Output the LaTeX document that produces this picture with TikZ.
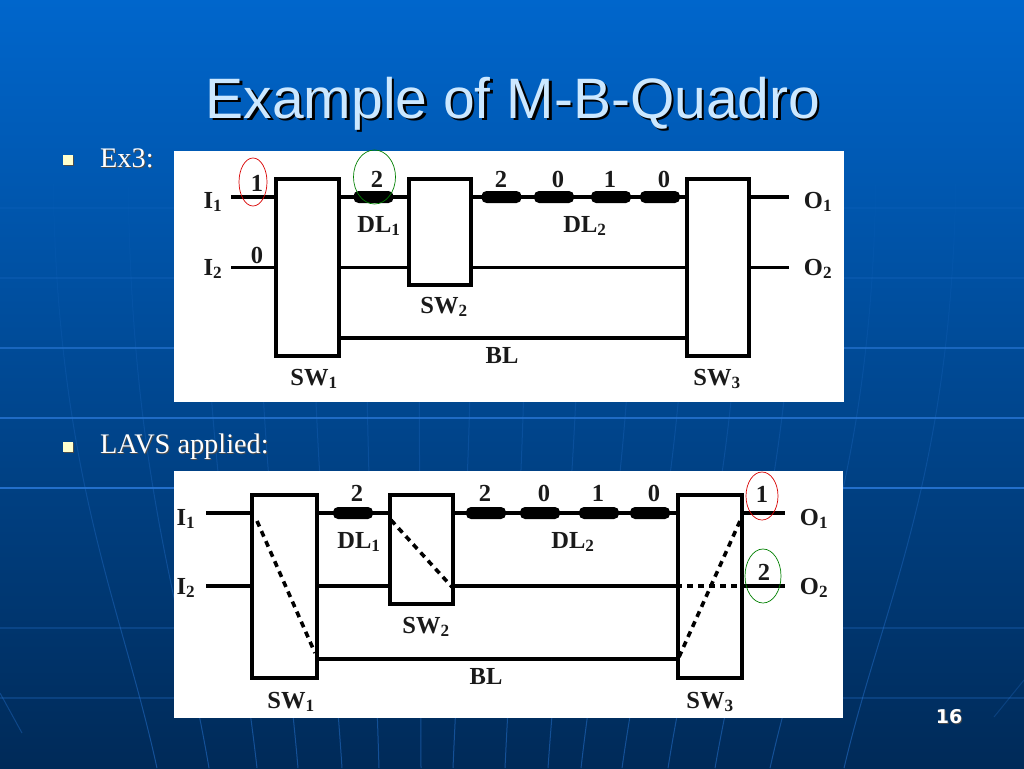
\documentclass[tikz,border=0pt]{standalone}
\usepackage{fontspec}
\setmainfont{Liberation Serif}
\newfontfamily\arialfont{Liberation Sans}
\newfontfamily\numfont{DejaVu Sans}
\usetikzlibrary{shapes.geometric, fadings}
\definecolor{slidetop}{HTML}{0066CC}
\definecolor{slidemid}{HTML}{004C9C}
\definecolor{slidebot}{HTML}{002A58}
\definecolor{gridline}{HTML}{2A78D8}
\definecolor{titleblue}{HTML}{CCE8FF}
\definecolor{bulletcream}{HTML}{FFFFCC}
\definecolor{inkblack}{HTML}{1A1A1A}
\newcommand{\dropshadow}[3]{\makebox[0pt][l]{\hspace{#1}\raisebox{-#1}{\textcolor{black!#2}{#3}}}#3}
\tikzset{
	swbox/.style={draw=black, line width=3.6pt, minimum width=#1, inner sep=0pt},
	wire/.style={line width=3.6pt, draw=black},
	dashwire/.style={line width=3.6pt, draw=black, dash pattern=on 6pt off 5pt},
	delayblob/.style={fill=black, rounded corners=5pt, minimum width=40pt, minimum height=12pt, inner sep=0pt},
	lbl/.style={font=\fontsize{24.5}{24.5}\selectfont\bfseries, text=inkblack, anchor=base, inner sep=0pt},
	loopmark/.style={ellipse, draw=#1, line width=0.7pt, inner sep=0pt},
	bodytext/.style={font=\fontsize{28.3}{28.3}\selectfont, text=white, anchor=base west, inner sep=0pt},
	titletext/.style={font=\arialfont\fontsize{57}{57}\selectfont, text=titleblue, anchor=base, inner sep=0pt},
	numtext/.style={font=\numfont\bfseries\fontsize{19}{19}\selectfont, text=white, inner sep=0pt},
	bulletmark/.style={fill=bulletcream, minimum size=10pt, inner sep=0pt},
	panel/.style={fill=white, draw=none},
}
\begin{document}
\begin{tikzpicture}[x=1pt, y=-1pt]
	\useasboundingbox (0,0) rectangle (1024,768);
	\shade[top color=slidetop, middle color=slidemid, bottom color=slidebot] (0,0) rectangle (1024,768);

	\foreach \ypos/\lop in {208/.1, 278/.18, 348/.6, 418/.75, 488/.85, 628/.25, 698/.25} {
		\draw[gridline, opacity=\lop, line width=1.2pt] (0,\ypos) -- (1024,\ypos);
	}
	\foreach \xtop/\xbot in {53/157, 128/209, 203/257, 257/298, 311/342, 365/379, 419/421, 473/453, 527/505, 581/548, 635/581, 689/622, 743/668, 797/715, 876/770, 956/844} {
		\draw[gridline, opacity=.5, line width=1pt, path fading=north] (\xtop,150) .. controls (\xtop,470) and ({\xbot-(\xbot-\xtop)*.35},600) .. (\xbot,768);
	}
	\draw[gridline, opacity=.35, line width=1pt] (0,693) -- (22,733);
	\draw[gridline, opacity=.25, line width=1pt] (1024,680) -- (994,717);

	\node[titletext] (title) at (513,118) {\dropshadow{2.5pt}{100}{Example of M-B-Quadro}};

	\node[bulletmark, fill=black!70] (bulletas) at (69,161) {};
	\node[bulletmark] (bulleta) at (68,160) {};
	\node[bulletmark, fill=black!70] (bulletbs) at (69,448) {};
	\node[bulletmark] (bulletb) at (68,447) {};
	\node[bodytext] (extext) at (100,167) {\dropshadow{1pt}{70}{Ex3:}};
	\node[bodytext] (lavstext) at (100,453) {\dropshadow{1pt}{70}{LAVS applied:}};
	\node[numtext] (slidenum) at (949,717) {\dropshadow{1pt}{70}{16}};

	\fill[panel] (174,151) rectangle (844,402);
	\fill[panel] (174,471) rectangle (843,718);

	\node[swbox=63pt, minimum height=177pt] (swa) at (307.5,267.5) {};
	\node[swbox=62pt, minimum height=106pt] (swb) at (440,232) {};
	\node[swbox=62pt, minimum height=177pt] (swc) at (718,267.5) {};
	\coordinate (ia) at (231,197);
	\coordinate (ib) at (231,267.5);
	\coordinate (bl) at (339,338);
	\coordinate (oa) at (789,197);
	\coordinate (ob) at (789,267.5);
	\draw[wire] (ia) -- (ia -| swa.west);
	\draw[wire] (ib) -- (ib -| swa.west);
	\draw[wire] (swa.east |- ia) -- (swb.west |- ia);
	\draw[wire] (swa.east |- ib) -- (swb.west |- ib);
	\draw[wire] (swb.east |- ia) -- (swc.west |- ia);
	\draw[wire] (swb.east |- ib) -- (swc.west |- ib);
	\draw[wire] (swa.east |- bl) -- (swc.west |- bl);
	\draw[wire] (swc.east |- ia) -- (oa);
	\draw[wire] (swc.east |- ib) -- (ob);
	\foreach \xpos/\nm in {373.5/a, 501.5/b, 554/c, 611/d, 660/e} {
		\node[delayblob] (blob\nm) at (\xpos,197) {};
	}
	\foreach \xpos/\ypos/\txt/\nm in {213/208/I\textsubscript{1}/a, 213/275/I\textsubscript{2}/b, 257/191/1/c, 257/263/0/d, 377/187/2/e, 379/232/DL\textsubscript{1}/f, 501/187/2/g, 558/187/0/h, 610/187/1/i, 664/187/0/j, 585/232/DL\textsubscript{2}/k, 818/208/O\textsubscript{1}/l, 818/275/O\textsubscript{2}/m, 314/385/SW\textsubscript{1}/n, 444/313/SW\textsubscript{2}/o, 502/363/BL/p, 717/385/SW\textsubscript{3}/q} {
		\node[lbl] (top\nm) at (\xpos,\ypos) {\txt};
	}
	\node[loopmark=red!85!black, minimum width=28pt, minimum height=48pt] (ringa) at (253,182) {};
	\node[loopmark=green!50!black, minimum width=42pt, minimum height=54pt] (ringb) at (374.5,177) {};

	\node[swbox=65pt, minimum height=183pt] (lwa) at (284.5,586.5) {};
	\node[swbox=63pt, minimum height=109pt] (lwb) at (421.5,549.5) {};
	\node[swbox=64pt, minimum height=183pt] (lwc) at (710,586.5) {};
	\coordinate (lia) at (206,513);
	\coordinate (lib) at (206,586);
	\coordinate (lbl) at (317,659);
	\coordinate (loa) at (785,513);
	\coordinate (lob) at (785,586);
	\draw[wire] (lia) -- (lia -| lwa.west);
	\draw[wire] (lib) -- (lib -| lwa.west);
	\draw[wire] (lwa.east |- lia) -- (lwb.west |- lia);
	\draw[wire] (lwa.east |- lib) -- (lwb.west |- lib);
	\draw[wire] (lwb.east |- lia) -- (lwc.west |- lia);
	\draw[wire] (lwb.east |- lib) -- (lwc.west |- lib);
	\draw[wire] (lwa.east |- lbl) -- (lwc.west |- lbl);
	\draw[wire] (lwc.east |- lia) -- (loa);
	\draw[wire] (lwc.east |- lib) -- (lob);
	\foreach \xpos/\nm in {353/a, 486/b, 540/c, 599/d, 650/e} {
		\node[delayblob] (lblob\nm) at (\xpos,513) {};
	}
	\coordinate (dasha) at (257,521);
	\coordinate (dashb) at (315,653);
	\coordinate (dashc) at (391,520);
	\coordinate (dashd) at (452,587);
	\coordinate (dashe) at (679,657);
	\coordinate (dashf) at (740,521);
	\draw[dashwire] (dasha) -- (dashb);
	\draw[dashwire] (dashc) -- (dashd);
	\draw[dashwire] (dashe) -- (dashf);
	\draw[dashwire] (lib -| lwc.west) -- (lib -| lwc.east);
	\foreach \xpos/\ypos/\txt/\nm in {186/525/I\textsubscript{1}/a, 186/594/I\textsubscript{2}/b, 357/501/2/c, 359/548/DL\textsubscript{1}/d, 426/633/SW\textsubscript{2}/e, 485/501/2/f, 544/501/0/g, 598/501/1/h, 654/501/0/i, 573/548/DL\textsubscript{2}/j, 486/684/BL/k, 291/708/SW\textsubscript{1}/l, 710/708/SW\textsubscript{3}/m, 762/502/1/n, 764/580/2/o, 814/525/O\textsubscript{1}/p, 814/594/O\textsubscript{2}/q} {
		\node[lbl] (low\nm) at (\xpos,\ypos) {\txt};
	}
	\node[loopmark=red!85!black, minimum width=32pt, minimum height=48pt] (ringc) at (762,496) {};
	\node[loopmark=green!50!black, minimum width=36pt, minimum height=54pt] (ringd) at (763,576) {};
\end{tikzpicture}
\end{document}
